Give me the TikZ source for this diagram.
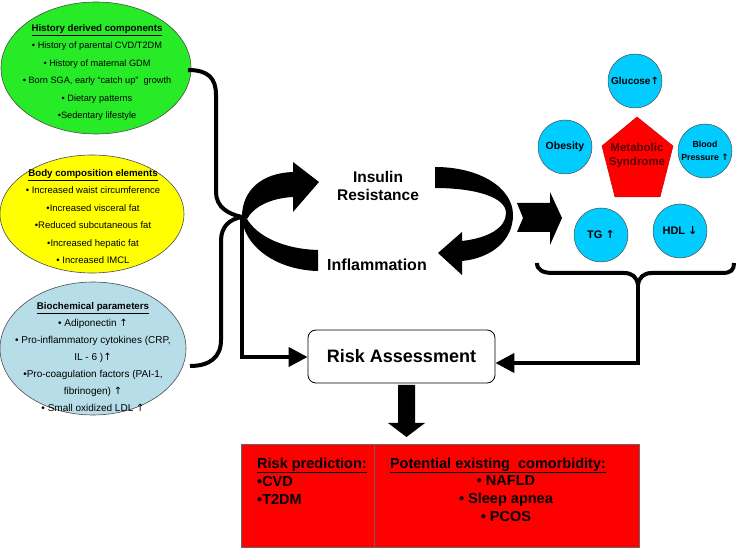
\documentclass[tikz,border=0pt]{standalone}
\usepackage{fontspec}
\setmainfont{Liberation Sans}
\newfontfamily\dvfont{DejaVu Sans}
\newcommand\myup{{\dvfont ↑}}
\newcommand\mydown{{\dvfont ↓}}
\usetikzlibrary{arrows.meta,shapes.geometric}
\definecolor{cgreen}{RGB}{40,235,40}
\definecolor{cyellow}{RGB}{255,255,0}
\definecolor{cpale}{RGB}{183,222,232}
\definecolor{cblue}{RGB}{0,204,255}
\definecolor{cdred}{RGB}{85,0,0}
\begin{document}
\begin{tikzpicture}[x=1pt,y=-1pt,
  ell/.style={ellipse, draw=black!70, line width=0.6pt, inner sep=0pt},
  etext/.style={align=center, inner sep=0pt},
  circ/.style={circle, draw=black!70, line width=0.5pt, fill=cblue, minimum size=54pt, inner sep=0pt, align=center},
  conn/.style={line width=4pt, line join=miter},
  bigtip/.style={-{Triangle[length=19pt,width=19pt]}}
]
\useasboundingbox (0,0) rectangle (740,548);

% ellipses
\node[ell, fill=cgreen, minimum width=190pt, minimum height=132pt] (hist) at (96,68) {};
\node[etext, font=\fontsize{9.2}{17.4}\selectfont] (histtxt) at (97,72.5)
 {\underline{\textbf{\fontsize{9.7}{17.4}\selectfont History derived components}}\\
  • History of parental CVD/T2DM\\
  • History of maternal GDM\\
  • Born SGA, early “catch up”\ \ growth\\
  • Dietary patterns\\
  •Sedentary lifestyle};

\node[ell, fill=cyellow, minimum width=184pt, minimum height=118pt] (body) at (92,214) {};
\node[etext, font=\fontsize{9.5}{17.4}\selectfont] (bodytxt) at (93,216.5)
 {\underline{\textbf{\fontsize{9.7}{17.4}\selectfont Body composition elements}}\\
  • Increased waist circumference\\
  •Increased visceral fat\\
  •Reduced subcutaneous fat\\
  •Increased hepatic fat\\
  • Increased IMCL};

\node[ell, fill=cpale, minimum width=186pt, minimum height=133pt] (bio) at (93,348.5) {};
\node[etext, font=\fontsize{10}{17}\selectfont] (biotxt) at (93,357)
 {\underline{\textbf{\fontsize{9.7}{17}\selectfont Biochemical parameters}}\\
  • Adiponectin \myup\\
  • Pro-inflammatory cytokines (CRP,\\
  IL - 6 )\myup\\
  •Pro-coagulation factors (PAI-1,\\
  fibrinogen) \myup\\
  • Small oxidized LDL \myup};

% left brace
\coordinate (bA) at (188,70);
\coordinate (bM) at (242,217);
\coordinate (bB) at (190,366);
\coordinate (bL) at (242,357);
\draw[line width=4pt] (bA) .. controls (208,70) and (216,78) .. (216,95) -- (216,192)
   .. controls (216,207) and (228,214) .. (bM);
\draw[line width=4pt] (bM) .. controls (230,219) and (221,226) .. (221,241) -- (221,340)
   .. controls (221,357) and (210,366) .. (bB);

% risk assessment
\node[draw, rounded corners=8pt, line width=0.8pt, minimum width=187pt, minimum height=53pt,
      font=\fontsize{18}{20}\selectfont\bfseries] (risk) at (401.5,356.5) {Risk Assessment};
\draw[conn, bigtip] (bM) -- (bL) -- (risk.west |- bL);

% cycle arrows
\fill (242,217) .. controls (242,190) and (262,173) .. (293,172) -- (293,162) -- (319,182)
   -- (293,212) -- (293,197) .. controls (272,198) and (254,206) .. (247,219) -- cycle;
\fill (242,217) .. controls (243,245) and (275,270) .. (318,271) -- (318,250)
   .. controls (283,249) and (257,236) .. (247,219) -- cycle;
\fill (435,167) .. controls (480,167) and (513,188) .. (513,215)
   .. controls (513,240) and (492,258) .. (462,261) -- (462,275) -- (438,253) -- (462,232)
   -- (462,241) .. controls (488,238) and (506,228) .. (506,213)
   .. controls (506,197) and (475,188) .. (435,188) -- cycle;
\node[font=\fontsize{15.5}{18}\selectfont\bfseries, align=center, inner sep=0pt] (ir) at (378,186) {Insulin\\Resistance};
\node[font=\fontsize{16}{18}\selectfont\bfseries, inner sep=0pt] (infl) at (377,265) {Inflammation};

% block arrow right
\fill (517,203) -- (550,203) -- (550,192) -- (562,218) -- (550,245) -- (550,232) -- (517,232) -- (523,218) -- cycle;

% metabolic syndrome
\coordinate (p1) at (637,117);
\coordinate (p2) at (673,146);
\coordinate (p3) at (660,197);
\coordinate (p4) at (615,197);
\coordinate (p5) at (602,146);
\filldraw[fill=red, draw=red!80!black, line width=0.5pt] (p1) -- (p2) -- (p3) -- (p4) -- (p5) -- cycle;
\node[font=\fontsize{11.5}{14}\selectfont\bfseries, text=cdred, align=center, inner sep=0pt] (ms) at (637,155.5) {Metabolic\\Syndrome};

\node[circ, font=\fontsize{10}{12}\selectfont\bfseries] (glu) at (635,81) {Glucose\myup};
\node[circ, font=\fontsize{10.5}{12}\selectfont\bfseries] (obe) at (565,147) {Obesity};
\node[circ, font=\fontsize{8.8}{13}\selectfont\bfseries] (bp) at (705,151) {Blood\\Pressure \myup};
\node[circ, font=\fontsize{11}{12}\selectfont\bfseries] (tg) at (601,235) {TG \myup};
\node[circ, font=\fontsize{11}{12}\selectfont\bfseries] (hdl) at (680,231) {HDL \mydown};

% right brace
\coordinate (rL) at (537,263);
\coordinate (rM) at (638,285);
\coordinate (rR) at (734,263);
\coordinate (rC) at (638,363);
\draw[line width=4pt] (rL) .. controls (537,270) and (543,273) .. (553,273) -- (624,273)
   .. controls (632,273) and (637,277) .. (rM);
\draw[line width=4pt] (rM) .. controls (639,277) and (644,273) .. (652,273) -- (722,273)
   .. controls (731,273) and (734,270) .. (rR);
\draw[conn, bigtip] (rM) -- (rC) -- (risk.east |- rC);

% down arrow
\fill (398,385) -- (415,385) -- (415,423) -- (425,423) -- (406.5,437) -- (388,423) -- (398,423) -- cycle;

% outcome box
\node[draw=black!60, line width=0.8pt, fill=red, minimum width=398pt, minimum height=103pt, inner sep=0pt] (out) at (440,495.5) {};
\draw[black!60, line width=0.8pt] (374,444) -- (374,547);
\node[anchor=north west, align=left, inner sep=0pt, font=\fontsize{14.5}{18}\selectfont\bfseries] (pred) at (257,457.5)
 {\underline{Risk prediction:}\\•CVD\\•T2DM};
\node[anchor=north, inner sep=0pt, font=\fontsize{14.5}{18}\selectfont\bfseries] (comt) at (498,457.5)
 {\underline{Potential existing\ \ comorbidity:}};
\node[anchor=north, align=center, inner sep=0pt, font=\fontsize{14.5}{17.7}\selectfont\bfseries] (coml) at (506,475.5)
 {• NAFLD\\• Sleep apnea\\• PCOS};
\end{tikzpicture}
\end{document}
